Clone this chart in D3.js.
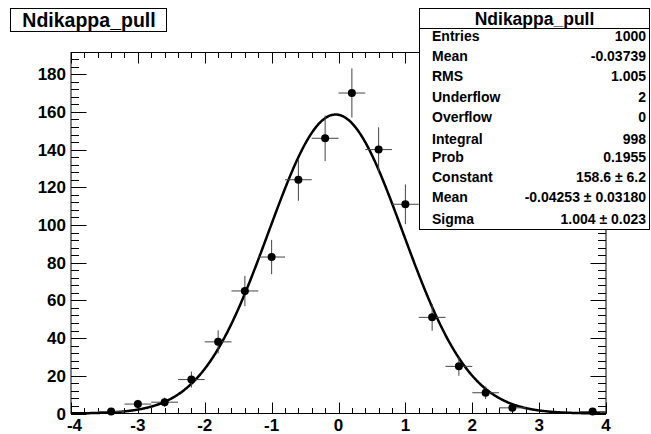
<!DOCTYPE html>
<html><head><meta charset="utf-8">
<script src="https://cdn.jsdelivr.net/npm/d3@7"></script>
<style>body{margin:0;background:#fff}svg{display:block}text{font-family:"Liberation Sans",Arial,sans-serif;font-weight:bold}</style>
</head><body>
<script>
const binCenters = [-3.8,-3.4,-3.0,-2.6,-2.2,-1.8,-1.4,-1.0,-0.6,-0.2,0.2,0.6,1.0,1.4,1.8,2.2,2.6,3.0,3.4,3.8];
const counts     = [0,1,5,6,18,38,65,83,124,146,170,140,111,51,25,11,3,0,0,1];
const binWidth = 0.4;
const fitConstant = 158.6, fitMean = -0.04253, fitSigma = 1.004;
const xTicks = [-4,-3,-2,-1,0,1,2,3,4];
const yTicks = [0,20,40,60,80,100,120,140,160,180];
const histTitle = "Ndikappa_pull";
const statNames  = ["Entries","Mean","RMS","Underflow","Overflow","Integral","Prob","Constant","Mean","Sigma"];
const statValues = ["1000","-0.03739","1.005","2","0","998","0.1955","158.6 \u00b1 6.2","-0.04253 \u00b1 0.03180","1.004 \u00b1 0.023"];

const W=651,H=434;
const svg=d3.select("body").append("svg").attr("width",W).attr("height",H);
const L=71,R=606,T=52.5,B=413.5;
const x=d3.scaleLinear().domain([-4,4]).range([L,R]);
const y=d3.scaleLinear().domain([0,191.5]).range([B,T]);

// frame
svg.append("rect").attr("x",L).attr("y",T).attr("width",R-L).attr("height",B-T).attr("fill","none").attr("stroke","#000").attr("stroke-width",1);

// ticks
const g=svg.append("g").attr("stroke","#000").attr("stroke-width",1);
const xMinor=d3.range(-40,41,2).map(v=>v/10);
xMinor.forEach(v=>{
  const major=Math.abs(v-Math.round(v))<1e-9;
  const len=major?11:5.5;
  const px=Math.round(x(v))+0.5;
  g.append("line").attr("x1",px).attr("x2",px).attr("y1",B).attr("y2",B-len);
  g.append("line").attr("x1",px).attr("x2",px).attr("y1",T).attr("y2",T+len);
});
const yMinor=d3.range(0,192,4);
yMinor.forEach(v=>{
  const major=v%20===0;
  const len=major?15.5:8;
  const py=Math.round(y(v))+0.5;
  g.append("line").attr("x1",L).attr("x2",L+len).attr("y1",py).attr("y2",py);
  g.append("line").attr("x1",R).attr("x2",R-len).attr("y1",py).attr("y2",py);
});

// tick labels
svg.append("g").selectAll("text").data(xTicks).join("text")
  .attr("x",d=>x(d)+(d===-4?3.5:0)).attr("y",431).attr("text-anchor","middle").attr("font-size",17).text(d=>d);
svg.append("g").selectAll("text").data(yTicks).join("text")
  .attr("x",66).attr("y",d=>y(d)+6).attr("text-anchor","end").attr("font-size",17).text(d=>d);

// fit curve
const fx=d3.range(0,801).map(i=>-4+i*0.01);
const line=d3.line().x(d=>x(d)).y(d=>y(fitConstant*Math.exp(-0.5*Math.pow((d-fitMean)/fitSigma,2))));
svg.append("path").datum(fx).attr("d",line).attr("fill","none").attr("stroke","#000").attr("stroke-width",2.5);

// data points
const pts=binCenters.map((c,i)=>({c,n:counts[i]})).filter(d=>d.n>0);
const eg=svg.append("g").attr("stroke","#444").attr("stroke-width",1);
pts.forEach(d=>{
  const e=Math.sqrt(d.n);
  eg.append("line").attr("x1",x(d.c-binWidth/2)).attr("x2",x(d.c+binWidth/2)).attr("y1",y(d.n)).attr("y2",y(d.n));
  eg.append("line").attr("x1",x(d.c)).attr("x2",x(d.c)).attr("y1",y(d.n-e)).attr("y2",y(Math.min(d.n+e,191.5)));
});
svg.append("g").selectAll("circle").data(pts).join("circle")
  .attr("cx",d=>x(d.c)).attr("cy",d=>y(d.n)).attr("r",4).attr("fill","#000");

// title box
svg.append("rect").attr("x",10.5).attr("y",8.5).attr("width",156).attr("height",23).attr("fill","#fff").attr("stroke","#000");
svg.append("text").attr("x",89).attr("y",27).attr("text-anchor","middle").attr("font-size",19.5).text(histTitle);

// stats box
const sx=419.5, sy=8.5, sw=230, sh=221;
svg.append("rect").attr("x",sx).attr("y",sy).attr("width",sw).attr("height",sh).attr("fill","#fff").attr("stroke","#000");
svg.append("line").attr("x1",sx).attr("x2",sx+sw).attr("y1",28.5).attr("y2",28.5).attr("stroke","#000");
svg.append("text").attr("x",sx+sw/2).attr("y",24.5).attr("text-anchor","middle").attr("font-size",17.5).text(histTitle);
const rowY=[36.2,55.9,76.3,96.7,116.5,139,157.3,177,196.7,219.2];
statNames.forEach((s,i)=>{
  svg.append("text").attr("x",432).attr("y",rowY[i]+5).attr("font-size",14).text(s);
  svg.append("text").attr("x",646).attr("y",rowY[i]+5).attr("text-anchor","end").attr("font-size",14).text(statValues[i]);
});
</script>
</body></html>
